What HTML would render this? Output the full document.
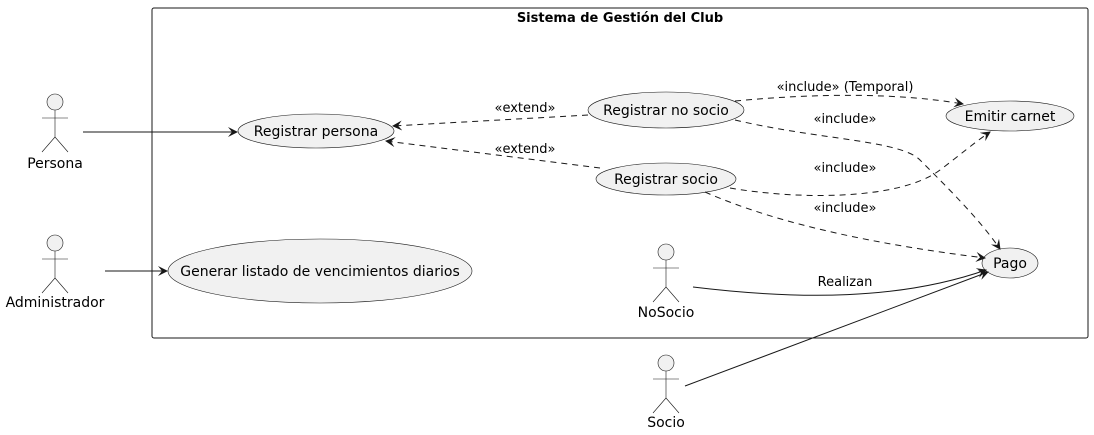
<!DOCTYPE html>
<html><head><meta charset="utf-8"><style>html,body{margin:0;padding:0;background:#fff}svg{display:block}text{font-family:"DejaVu Sans","Liberation Sans",sans-serif;font-size:13px;fill:#000}.u{font-size:14px}</style></head><body>
<svg width="1094" height="435" viewBox="0 0 1094 435" xmlns="http://www.w3.org/2000/svg">
<defs>
<marker id="a" viewBox="0 0 10 10" refX="9" refY="5" markerWidth="10" markerHeight="10" orient="auto" markerUnits="userSpaceOnUse"><path d="M0,0 L10,5 L0,10 L4,5 Z" fill="#181818"/></marker>
</defs>
<rect x="152" y="8" width="936" height="330" rx="2" fill="none" stroke="#181818" stroke-width="1"/>
<text x="620" y="22" text-anchor="middle" style="font-weight:bold">Sistema de Gestión del Club</text>
<g fill="#f1f1f1" stroke="#181818" stroke-width="0.6">
<ellipse cx="316" cy="131" rx="78" ry="17"/>
<ellipse cx="320" cy="271" rx="152" ry="32"/>
<ellipse cx="666" cy="110" rx="78" ry="18"/>
<ellipse cx="666" cy="179" rx="70" ry="16"/>
<ellipse cx="1010" cy="116" rx="64" ry="15"/>
<ellipse cx="1010" cy="263" rx="28" ry="15"/>
</g>
<g text-anchor="middle" class="u">
<text class="u" x="316" y="136">Registrar persona</text>
<text class="u" x="320" y="276">Generar listado de vencimientos diarios</text>
<text class="u" x="666" y="115">Registrar no socio</text>
<text class="u" x="666" y="184">Registrar socio</text>
<text class="u" x="1010" y="121">Emitir carnet</text>
<text class="u" x="1010" y="268">Pago</text>
</g>
<g fill="#f1f1f1" stroke="#181818" stroke-width="0.6">
<g transform="translate(55,102)"><circle cx="0" cy="0" r="8"/><path d="M0,8V35M-13,16H13M0,35L-13,50M0,35L13,50" fill="none"/></g>
<g transform="translate(55,243)"><circle cx="0" cy="0" r="8"/><path d="M0,8V35M-13,16H13M0,35L-13,50M0,35L13,50" fill="none"/></g>
<g transform="translate(666,252)"><circle cx="0" cy="0" r="8"/><path d="M0,8V35M-13,16H13M0,35L-13,50M0,35L13,50" fill="none"/></g>
<g transform="translate(666,363)"><circle cx="0" cy="0" r="8"/><path d="M0,8V35M-13,16H13M0,35L-13,50M0,35L13,50" fill="none"/></g>
</g>
<g text-anchor="middle">
<text class="u" x="55" y="168">Persona</text>
<text class="u" x="55" y="307">Administrador</text>
<text class="u" x="666" y="317">NoSocio</text>
<text class="u" x="666" y="427">Socio</text>
</g>
<g fill="none" stroke="#181818" stroke-width="1">
<path d="M83,132 L237,132" marker-end="url(#a)"/>
<path d="M105,271 L167,271" marker-end="url(#a)"/>
<path d="M693,287 C800,300 900,300 986,270" marker-end="url(#a)"/>
<path d="M685,386 L988,272" marker-end="url(#a)"/>
</g>
<g fill="none" stroke="#181818" stroke-width="1" stroke-dasharray="6,5">
<path d="M588,115 L393,126" marker-end="url(#a)"/>
<path d="M600,168 L386,141" marker-end="url(#a)"/>
<path d="M735,101 C820,93 900,93 963,104" marker-end="url(#a)"/>
<path d="M735,120 C820,140 900,140 920,160 C950,190 980,220 1000,249" marker-end="url(#a)"/>
<path d="M730,188 C800,200 900,200 940,170 C960,155 975,142 990,132" marker-end="url(#a)"/>
<path d="M705,192 C780,225 880,245 985,258" marker-end="url(#a)"/>
</g>
<g text-anchor="middle">
<text x="525" y="112">«extend»</text>
<text x="525" y="153">«extend»</text>
<text x="845" y="91">«include» (Temporal)</text>
<text x="845" y="123">«include»</text>
<text x="845" y="172">«include»</text>
<text x="845" y="212">«include»</text>
<text x="845" y="286">Realizan</text>
</g>
</svg>
</body></html>
